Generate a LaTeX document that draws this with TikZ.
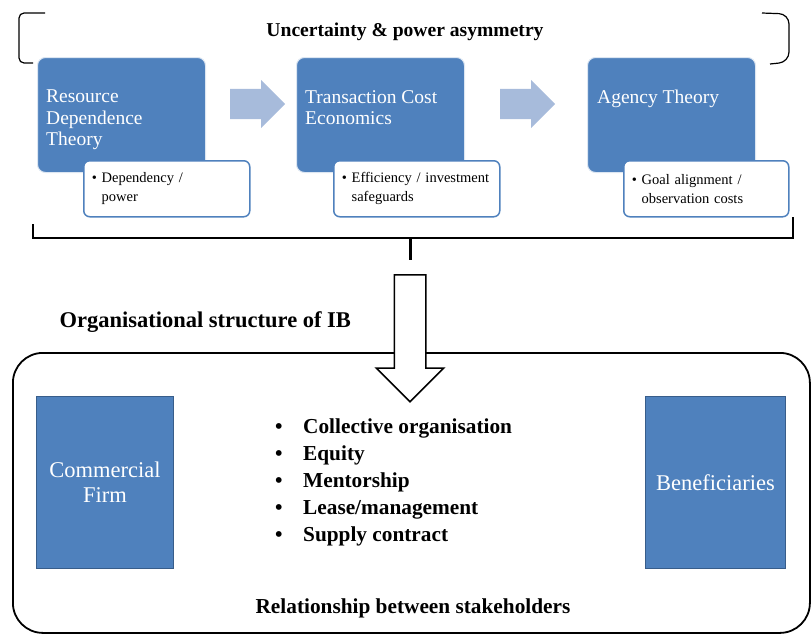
\documentclass[tikz,border=0pt]{standalone}
\usepackage{fontspec}
\setmainfont{Liberation Serif}
\usetikzlibrary{shapes.arrows,positioning}
\definecolor{themeblue}{HTML}{4F81BD}
\definecolor{arrowblue}{HTML}{A7BBDB}
\definecolor{edgeblue}{HTML}{385D8A}

\begin{document}
\begin{tikzpicture}[x=1pt, y=-1pt]
    \tikzstyle{theory} = [rectangle, rounded corners=8pt, minimum width=168pt, minimum height=115pt, fill=themeblue, draw=themeblue!20, line width=1pt, anchor=north west]
    \tikzstyle{theorytext} = [anchor=north west, inner sep=0pt, align=left, text=white, font=\fontsize{19.5}{21.5}\selectfont]
    \tikzstyle{keypoint} = [rectangle, rounded corners=6pt, minimum height=56pt, inner xsep=8pt, text width=150pt, align=left, fill=white, draw=themeblue, line width=1.5pt, anchor=north west, font=\fontsize{14.5}{19}\selectfont]
    \tikzstyle{flow} = [single arrow, fill=arrowblue, inner sep=15pt, minimum height=55pt, single arrow head extend=9pt, anchor=tail]
    \tikzstyle{party} = [rectangle, minimum height=172pt, fill=themeblue, draw=edgeblue, line width=0.8pt, text=white, align=center, anchor=north west, font=\fontsize{22.5}{25}\selectfont]
    \tikzstyle{heading} = [font=\bfseries\fontsize{21.3}{24}\selectfont]
    \useasboundingbox (0,0) rectangle (812,635);

    % Theories
    \node [theory] (rdt) at (37,57) {};
    \node [theory] (tce) at (296,57) {};
    \node [theory] (agency) at (587,57) {};
    \node [theorytext] (rdt_text) at (46,90) {Resource\\Dependence\\Theory};
    \node [theorytext] (tce_text) at (305,90) {Transaction Cost\\Economics};
    \node [theorytext] (agency_text) at (597,90) {Agency Theory};

    % Key points
    \node [keypoint] (rdt_point) at (83,160) {\textbullet~Dependency /\\\phantom{\textbullet~}power};
    \node [keypoint] (tce_point) at (333,160) {\textbullet~Efficiency / investment\\\phantom{\textbullet~}safeguards};
    \node [keypoint, text width=149pt] (agency_point) at (623,160) {\textbullet~Goal alignment /\\\phantom{\textbullet~}observation costs};

    % Flow between theories
    \node [flow] (flow_a) at (230,104) {};
    \node [flow] (flow_b) at (500,104) {};

    % Uncertainty bracket
    \node [heading, font=\bfseries\fontsize{19.6}{22}\selectfont] (uncertainty) at (405,32) {Uncertainty \& power asymmetry};
    \draw [line width=1.2pt, rounded corners=5pt] (45,13) -- (19,13) -- (19,63) -- (33,63);
    \draw [line width=1.2pt, rounded corners=10pt] (762,13) -- (789,14) -- (789,62) -- (770,64);

    % Brace
    \draw [line width=2pt] (33,224) -- (33,238) -- (793,238) -- (793,217);
    \draw [line width=3pt] (410,238) -- (410,260);

    % Organisational structure
    \node [heading, anchor=west, font=\bfseries\fontsize{22.5}{26}\selectfont] (structure) at (56,322) {Organisational structure of IB};
    \node [draw, rounded corners=30pt, line width=1.8pt, minimum width=797pt, minimum height=280pt, anchor=north west] (ib) at (12,352) {};
    \node [single arrow, rotate=-90, draw, fill=white, line width=1.5pt, inner sep=15pt, minimum height=127pt, single arrow head extend=18pt, anchor=tail] (ib_arrow) at (410,274) {};

    % Stakeholders
    \node [party, minimum width=137pt] (firm) at (36,396) {Commercial\\Firm};
    \node [party, minimum width=140pt] (beneficiaries) at (645,396) {Beneficiaries};
    \node [heading, anchor=north west, inner sep=0pt, align=left, font=\bfseries\fontsize{21.3}{27}\selectfont] (forms) at (275,419)
        {\makebox[28pt][l]{\textbullet}Collective organisation\\
         \makebox[28pt][l]{\textbullet}Equity\\
         \makebox[28pt][l]{\textbullet}Mentorship\\
         \makebox[28pt][l]{\textbullet}Lease/management\\
         \makebox[28pt][l]{\textbullet}Supply contract};
    \node [heading] (relationship) at (413,608) {Relationship between stakeholders};
\end{tikzpicture}
\end{document}
